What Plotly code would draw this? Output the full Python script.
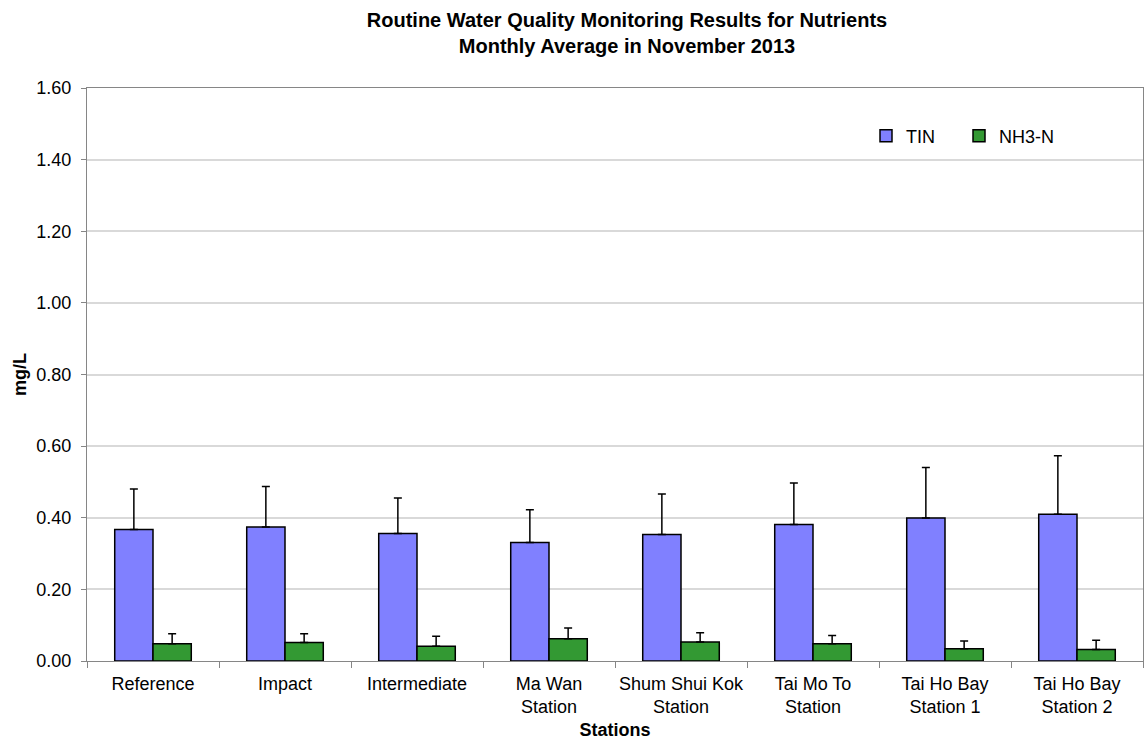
import plotly.graph_objects as go

stations = ["Reference", "Impact", "Intermediate", "Ma Wan<br>Station", "Shum Shui Kok<br>Station",
            "Tai Mo To<br>Station", "Tai Ho Bay<br>Station 1", "Tai Ho Bay<br>Station 2"]
tin = [0.367, 0.374, 0.356, 0.331, 0.353, 0.381, 0.399, 0.410]
tin_upper = [0.480, 0.487, 0.455, 0.422, 0.466, 0.497, 0.540, 0.573]
nh3 = [0.048, 0.052, 0.041, 0.062, 0.053, 0.048, 0.034, 0.032]
nh3_upper = [0.076, 0.076, 0.069, 0.092, 0.079, 0.071, 0.056, 0.058]

tin_err = [u - v for u, v in zip(tin_upper, tin)]
nh3_err = [u - v for u, v in zip(nh3_upper, nh3)]

FONT = "Liberation Sans, Arial, sans-serif"

fig = go.Figure()
fig.add_trace(go.Bar(
    x=stations, y=tin, name="TIN", legend="legend", showlegend=True,
    marker=dict(color="#8080FF", line=dict(color="#000000", width=1.5)),
    error_y=dict(type="data", symmetric=False, array=tin_err, arrayminus=[0] * len(tin),
                 color="#000000", thickness=1.5, width=4),
))
fig.add_trace(go.Bar(
    x=stations, y=nh3, name="NH3-N", legend="legend2", showlegend=True,
    marker=dict(color="#339933", line=dict(color="#000000", width=1.5)),
    error_y=dict(type="data", symmetric=False, array=nh3_err, arrayminus=[0] * len(nh3),
                 color="#000000", thickness=1.5, width=4),
))

leg_common = dict(orientation="h", xanchor="left", yanchor="middle", y=(661 - 136) / 573,
                  bgcolor="rgba(0,0,0,0)", font=dict(size=18), itemclick=False, itemdoubleclick=False)

fig.update_layout(
    width=1145, height=742,
    margin=dict(l=87, r=2, t=88, b=81, autoexpand=False),
    paper_bgcolor="white", plot_bgcolor="white",
    font=dict(family=FONT, size=18, color="#000000"),
    barmode="group", bargap=0.42, bargroupgap=0,
    showlegend=True,
    title=dict(text="<b>Routine Water Quality Monitoring Results for Nutrients<br>Monthly Average in November 2013</b>",
               x=627 / 1145, xanchor="center", xref="container",
               y=1 - 27 / 742, yanchor="middle", font=dict(family=FONT, size=20)),
    legend=dict(x=(866 - 87) / 1056, **leg_common),
    legend2=dict(x=(959 - 87) / 1056, **leg_common),
    xaxis=dict(
        showline=True, linecolor="#868686", linewidth=1, mirror=True,
        ticks="outside", tickson="boundaries", ticklen=6, tickcolor="#868686",
        showgrid=False, tickangle=0, ticklabelstandoff=6,
        title=dict(text="<b>Stations</b>", font=dict(size=18), standoff=7),
        tickfont=dict(size=18),
    ),
    yaxis=dict(
        range=[0, 1.6], dtick=0.2, tickformat=".2f",
        showline=True, linecolor="#868686", linewidth=1, mirror=True,
        ticks="outside", ticklen=5, tickcolor="#868686",
        showgrid=True, gridcolor="#D9D9D9", gridwidth=1.5,
        zeroline=False,
        title=dict(text="<b>mg/L</b>", font=dict(size=18), standoff=5),
        tickfont=dict(size=18),
        ticklabelstandoff=6,
    ),
)

fig.write_html("out.html", config={"displayModeBar": False},
               post_script="document.body.style.margin='0';document.body.style.overflow='hidden';")
